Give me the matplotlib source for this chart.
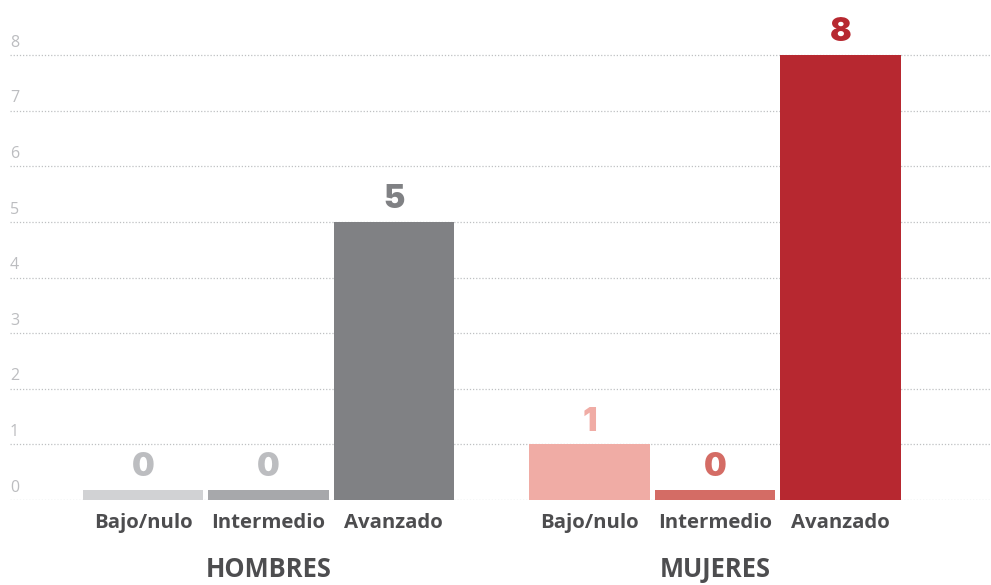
import matplotlib
matplotlib.use("Agg")
import matplotlib.pyplot as plt

groups = ["HOMBRES", "MUJERES"]
levels = ["Bajo/nulo", "Intermedio", "Avanzado"]
hombres = [0, 0, 5]
mujeres = [1, 0, 8]
yticks = [0, 1, 2, 3, 4, 5, 6, 7, 8]

bar_colors = {
    "HOMBRES": ["#d1d2d4", "#a7a8ab", "#808184"],
    "MUJERES": ["#f0aca5", "#d46c65", "#b72830"],
}
label_colors = {
    "HOMBRES": ["#bcbdc0", "#bcbdc0", "#808184"],
    "MUJERES": ["#f0aca5", "#d46c65", "#b72830"],
}

TEXT_FONT = ["Open Sans", "DejaVu Sans"]
VALUE_FONT = ["Inter", "DejaVu Sans"]

fig = plt.figure(figsize=(9.91, 5.85), dpi=100)
ax = fig.add_axes([10 / 991, 85 / 585, 981 / 991, 500 / 585])

step = 1.0
width = 0.96
group_offset = [0.0, 3.56]
min_visible = 0.18  # stub height so zero-valued bars stay visible

for gi, (g, vals) in enumerate(zip(groups, [hombres, mujeres])):
    for i, v in enumerate(vals):
        x = group_offset[gi] + i * step
        h = max(v, min_visible)
        ax.bar(x, h, width=width, color=bar_colors[g][i], zorder=3)
        ax.annotate(str(v), (x, h), xytext=(0, 10), textcoords="offset points",
                    ha="center", va="baseline", fontsize=23,
                    family=VALUE_FONT, fontweight="black",
                    color=label_colors[g][i])
        ax.text(x, -0.42, levels[i], ha="center", va="center", fontsize=14.7,
                family=TEXT_FONT, fontweight="bold", color="#4d4d4f")
    ax.text(group_offset[gi] + step, -1.25, g, ha="center", va="center",
            fontsize=18.4, family=TEXT_FONT, fontweight="bold", color="#4d4d4f")

for t in yticks:
    ax.axhline(t, color="#bfc0c2", lw=0.9, ls=(0, (1, 1.5)), zorder=1)
    ax.text(0.0, t + 0.15, str(t), transform=ax.get_yaxis_transform(),
            ha="left", va="baseline", fontsize=11.5,
            family=TEXT_FONT, color="#bcbdc0")

ax.set_xlim(-1.06, 6.76)
ax.set_ylim(0, 500 / 55.6)
ax.axis("off")

fig.savefig("out.png", dpi=100)
